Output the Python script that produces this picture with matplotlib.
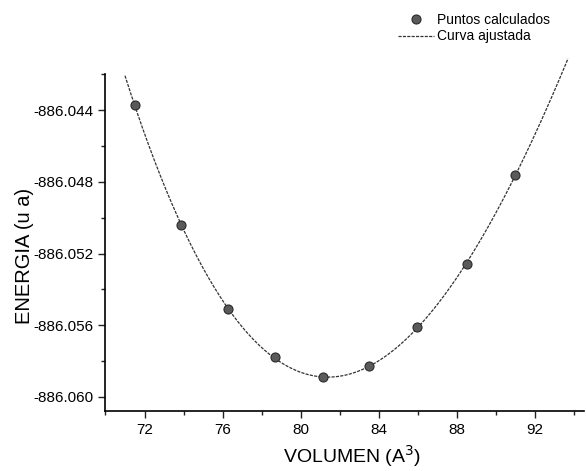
import matplotlib
matplotlib.use("Agg")
import matplotlib.pyplot as plt
import numpy as np
from matplotlib.ticker import MultipleLocator, FormatStrFormatter

# Calculated points
volumen = [71.5, 73.86, 76.29, 78.7, 81.13, 83.52, 85.98, 88.5, 91.0]
energia = [-886.0437, -886.0504, -886.0551, -886.0578, -886.0589,
           -886.0583, -886.0561, -886.0526, -886.0476]

# x range covered by the fitted curve
curve_x_range = [71.0, 93.7]

plt.rcParams["font.family"] = ["Liberation Sans", "DejaVu Sans"]

fig = plt.figure(figsize=(5.86, 4.71), dpi=100)
ax = fig.add_axes([0.18, 0.127, 0.816, 0.715])

# fitted curve (cubic fit to the calculated points)
coef = np.polyfit(np.array(volumen) - 80, energia, 3)
xc = np.linspace(curve_x_range[0], curve_x_range[1], 300)
yc = np.polyval(coef, xc - 80)
ax.plot(xc, yc, color="#333333", lw=0.9, ls=(0, (2.5, 1)), clip_on=False,
        label="Curva ajustada", zorder=2)
ax.plot(volumen, energia, "o", ms=6.5, color="#5a5a5a", mec="#2a2a2a",
        mew=0.8, label="Puntos calculados", zorder=3, clip_on=False)

ax.set_xlim(70, 94.5)
ax.set_ylim(-886.0608, -886.042)
ax.spines["top"].set_visible(False)
ax.spines["right"].set_visible(False)
ax.spines["left"].set_linewidth(1.2)
ax.spines["bottom"].set_linewidth(1.2)

ax.xaxis.set_major_locator(MultipleLocator(4))
ax.xaxis.set_minor_locator(MultipleLocator(2))
ax.yaxis.set_major_locator(MultipleLocator(0.004))
ax.yaxis.set_minor_locator(MultipleLocator(0.002))
ax.xaxis.set_major_formatter(FormatStrFormatter("%d"))
ax.yaxis.set_major_formatter(FormatStrFormatter("%.3f"))
ax.set_xticks([72, 76, 80, 84, 88, 92])
ax.tick_params(which="major", length=5, width=1, labelsize=11, color="#222222")
ax.tick_params(which="minor", length=3, width=1, color="#222222")

ax.set_xlabel("VOLUMEN (A$^3$)", fontsize=14, labelpad=6)
ax.xaxis.set_label_coords(0.515, -0.095)
ax.set_ylabel("ENERGIA (u a)", fontsize=14.5)
ax.yaxis.set_label_coords(-0.15, 0.46)

handles, labels = ax.get_legend_handles_labels()
ax.legend(handles[::-1], labels[::-1], loc="upper left",
          bbox_to_anchor=(0.60, 1.2), frameon=False, fontsize=10,
          handlelength=2.6, handletextpad=0.2, labelspacing=0.2,
          borderaxespad=0)

fig.savefig("out.png", dpi=100)
